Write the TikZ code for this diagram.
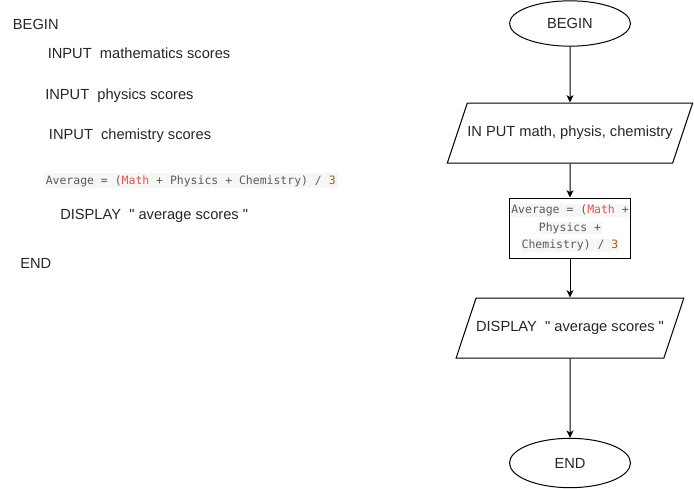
\documentclass[tikz,border=0pt]{standalone}
\usepackage{fontspec}
\setmainfont{Liberation Sans}[Ligatures=TeXOff]
\setmonofont{DejaVu Sans Mono}
\usetikzlibrary{positioning,shapes.geometric,arrows.meta}

\definecolor{codegray}{HTML}{5C5C5C}
\definecolor{codered}{HTML}{E45649}
\definecolor{codenum}{HTML}{986801}
\definecolor{codebg}{HTML}{F6F6F6}

\newcommand{\codebit}[1]{{\setlength{\fboxsep}{0.6pt}\colorbox{codebg}{#1}}}

\tikzset{
  terminal/.style={ellipse, draw, line width=0.75pt, minimum width=90.75pt,
                   minimum height=34pt, inner sep=0pt},
  iobox/.style={trapezium, trapezium left angle=71.6, trapezium right angle=108.4,
                trapezium stretches body, draw, line width=0.75pt,
                text height=8pt, text depth=2.5pt, inner xsep=0pt, inner ysep=17.25pt},
  procbox/.style={rectangle, draw, line width=0.75pt, minimum width=90.75pt,
                  minimum height=45pt, inner sep=0.5pt, align=center,
                  font=\ttfamily\fontsize{8.6}{13.3}\selectfont, text=codegray},
  pseudo/.style={anchor=base west, inner sep=0pt},
  flowarrow/.style={-{Stealth[length=5.5pt,width=5.2pt,inset=1.5pt]}, line width=0.75pt}
}

\begin{document}
\begin{tikzpicture}[x=0.75pt, y=-0.75pt, font=\fontsize{11}{13}\selectfont, text=black!85]
\useasboundingbox (0,0) rectangle (694,489);

% pseudocode
\node[pseudo] (pbegin) at (12.7,29) {BEGIN};
\node[pseudo] (pmath) at (47.5,59) {INPUT~ mathematics scores};
\node[pseudo] (pphys) at (45,99) {INPUT~ physics scores};
\node[pseudo] (pchem) at (48.7,139) {INPUT~ chemistry scores};
\node[pseudo, fill=codebg, inner xsep=1.5pt, inner ysep=1.2pt, text height=7pt,
      text depth=1.6pt, text=codegray, font=\ttfamily\fontsize{8.6}{10}\selectfont]
  (pavg) at (43.5,184.3)
  {Average = (\textcolor{codered}{Math} + Physics + Chemistry) / \textcolor{codenum}{3}};
\node[pseudo] (pdisp) at (60,219) {DISPLAY~ " average scores "};
\node[pseudo] (pend) at (20,268) {END};

% flowchart
\node[terminal] (begin) at (570,23.5) {BEGIN};
\node[iobox, minimum width=183.75pt] (input) at (570,133) {IN PUT math, physis, chemistry};
\node[procbox] (avg) at (570,228)
  {\codebit{Average = (\textcolor{codered}{Math} +}\\
   \codebit{Physics +}\\
   \codebit{Chemistry) / \textcolor{codenum}{3}}};
\node[iobox, minimum width=165pt] (disp) at (570,328) {DISPLAY~ " average scores "};
\node[terminal, minimum height=37pt] (end) at (570,463) {END};

\draw[flowarrow] (begin) -- (input);
\draw[flowarrow] (input) -- (avg);
\draw[flowarrow] (avg) -- (disp);
\draw[flowarrow] (disp) -- (end);
\end{tikzpicture}
\end{document}
